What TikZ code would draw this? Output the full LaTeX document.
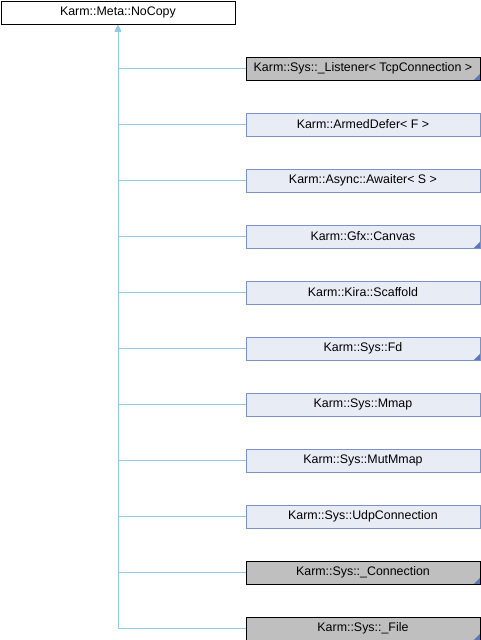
\documentclass[tikz,border=0pt]{standalone}
\usepackage{fontspec}
\setmainfont{Liberation Sans}
\usetikzlibrary{arrows.meta}
\definecolor{edgecol}{RGB}{146,200,232}
\definecolor{bluefill}{RGB}{232,236,245}
\definecolor{blueline}{RGB}{122,146,200}
\definecolor{grayfill}{RGB}{191,191,191}
\definecolor{cornercol}{RGB}{90,120,190}
\tikzset{
  cls/.style={draw=black, line width=0.9pt, minimum width=234pt, minimum height=23pt, inner sep=0pt, font=\fontsize{12.4}{14}\selectfont, anchor=north west},
  basebox/.style={cls, fill=white},
  bluebox/.style={cls, fill=bluefill, draw=blueline},
  graybox/.style={cls, fill=grayfill},
  edge/.style={draw=edgecol, line width=0.9pt},
  inh/.style={edge, -{Triangle[width=6pt,length=6pt]}, shorten >=1pt},
  corner/.style={fill=cornercol, draw=none}
}
\begin{document}
\begin{tikzpicture}[x=1pt,y=-1pt]
\useasboundingbox (0,0) rectangle (480,640);
\node[basebox] (base) at (0.5,0.5) {Karm::Meta::NoCopy};
\node[graybox] (c1) at (245.5,56.5) {Karm::Sys::\_Listener<{} TcpConnection >};
\node[bluebox] (c2) at (245.5,112.5) {Karm::ArmedDefer<{} F >};
\node[bluebox] (c3) at (245.5,168.5) {Karm::Async::Awaiter<{} S >};
\node[bluebox] (c4) at (245.5,224.5) {Karm::Gfx::Canvas};
\node[bluebox] (c5) at (245.5,280.5) {Karm::Kira::Scaffold};
\node[bluebox] (c6) at (245.5,336.5) {Karm::Sys::Fd};
\node[bluebox] (c7) at (245.5,392.5) {Karm::Sys::Mmap};
\node[bluebox] (c8) at (245.5,448.5) {Karm::Sys::MutMmap};
\node[bluebox] (c9) at (245.5,504.5) {Karm::Sys::UdpConnection};
\node[graybox] (c10) at (245.5,560.5) {Karm::Sys::\_Connection};
\node[graybox] (c11) at (245.5,616.5) {Karm::Sys::\_File};
\foreach \c in {c1,c2,c3,c4,c5,c6,c7,c8,c9,c10,c11}{
  \draw[inh] (\c.west) -| (base.south);
}
\foreach \c in {c1,c4,c6,c10,c11}{
  \fill[corner] ([xshift=-0.5pt,yshift=0.5pt]\c.south east) -- ++(-6pt,0pt) -- ++(6pt,6pt) -- cycle;
}
\end{tikzpicture}
\end{document}
